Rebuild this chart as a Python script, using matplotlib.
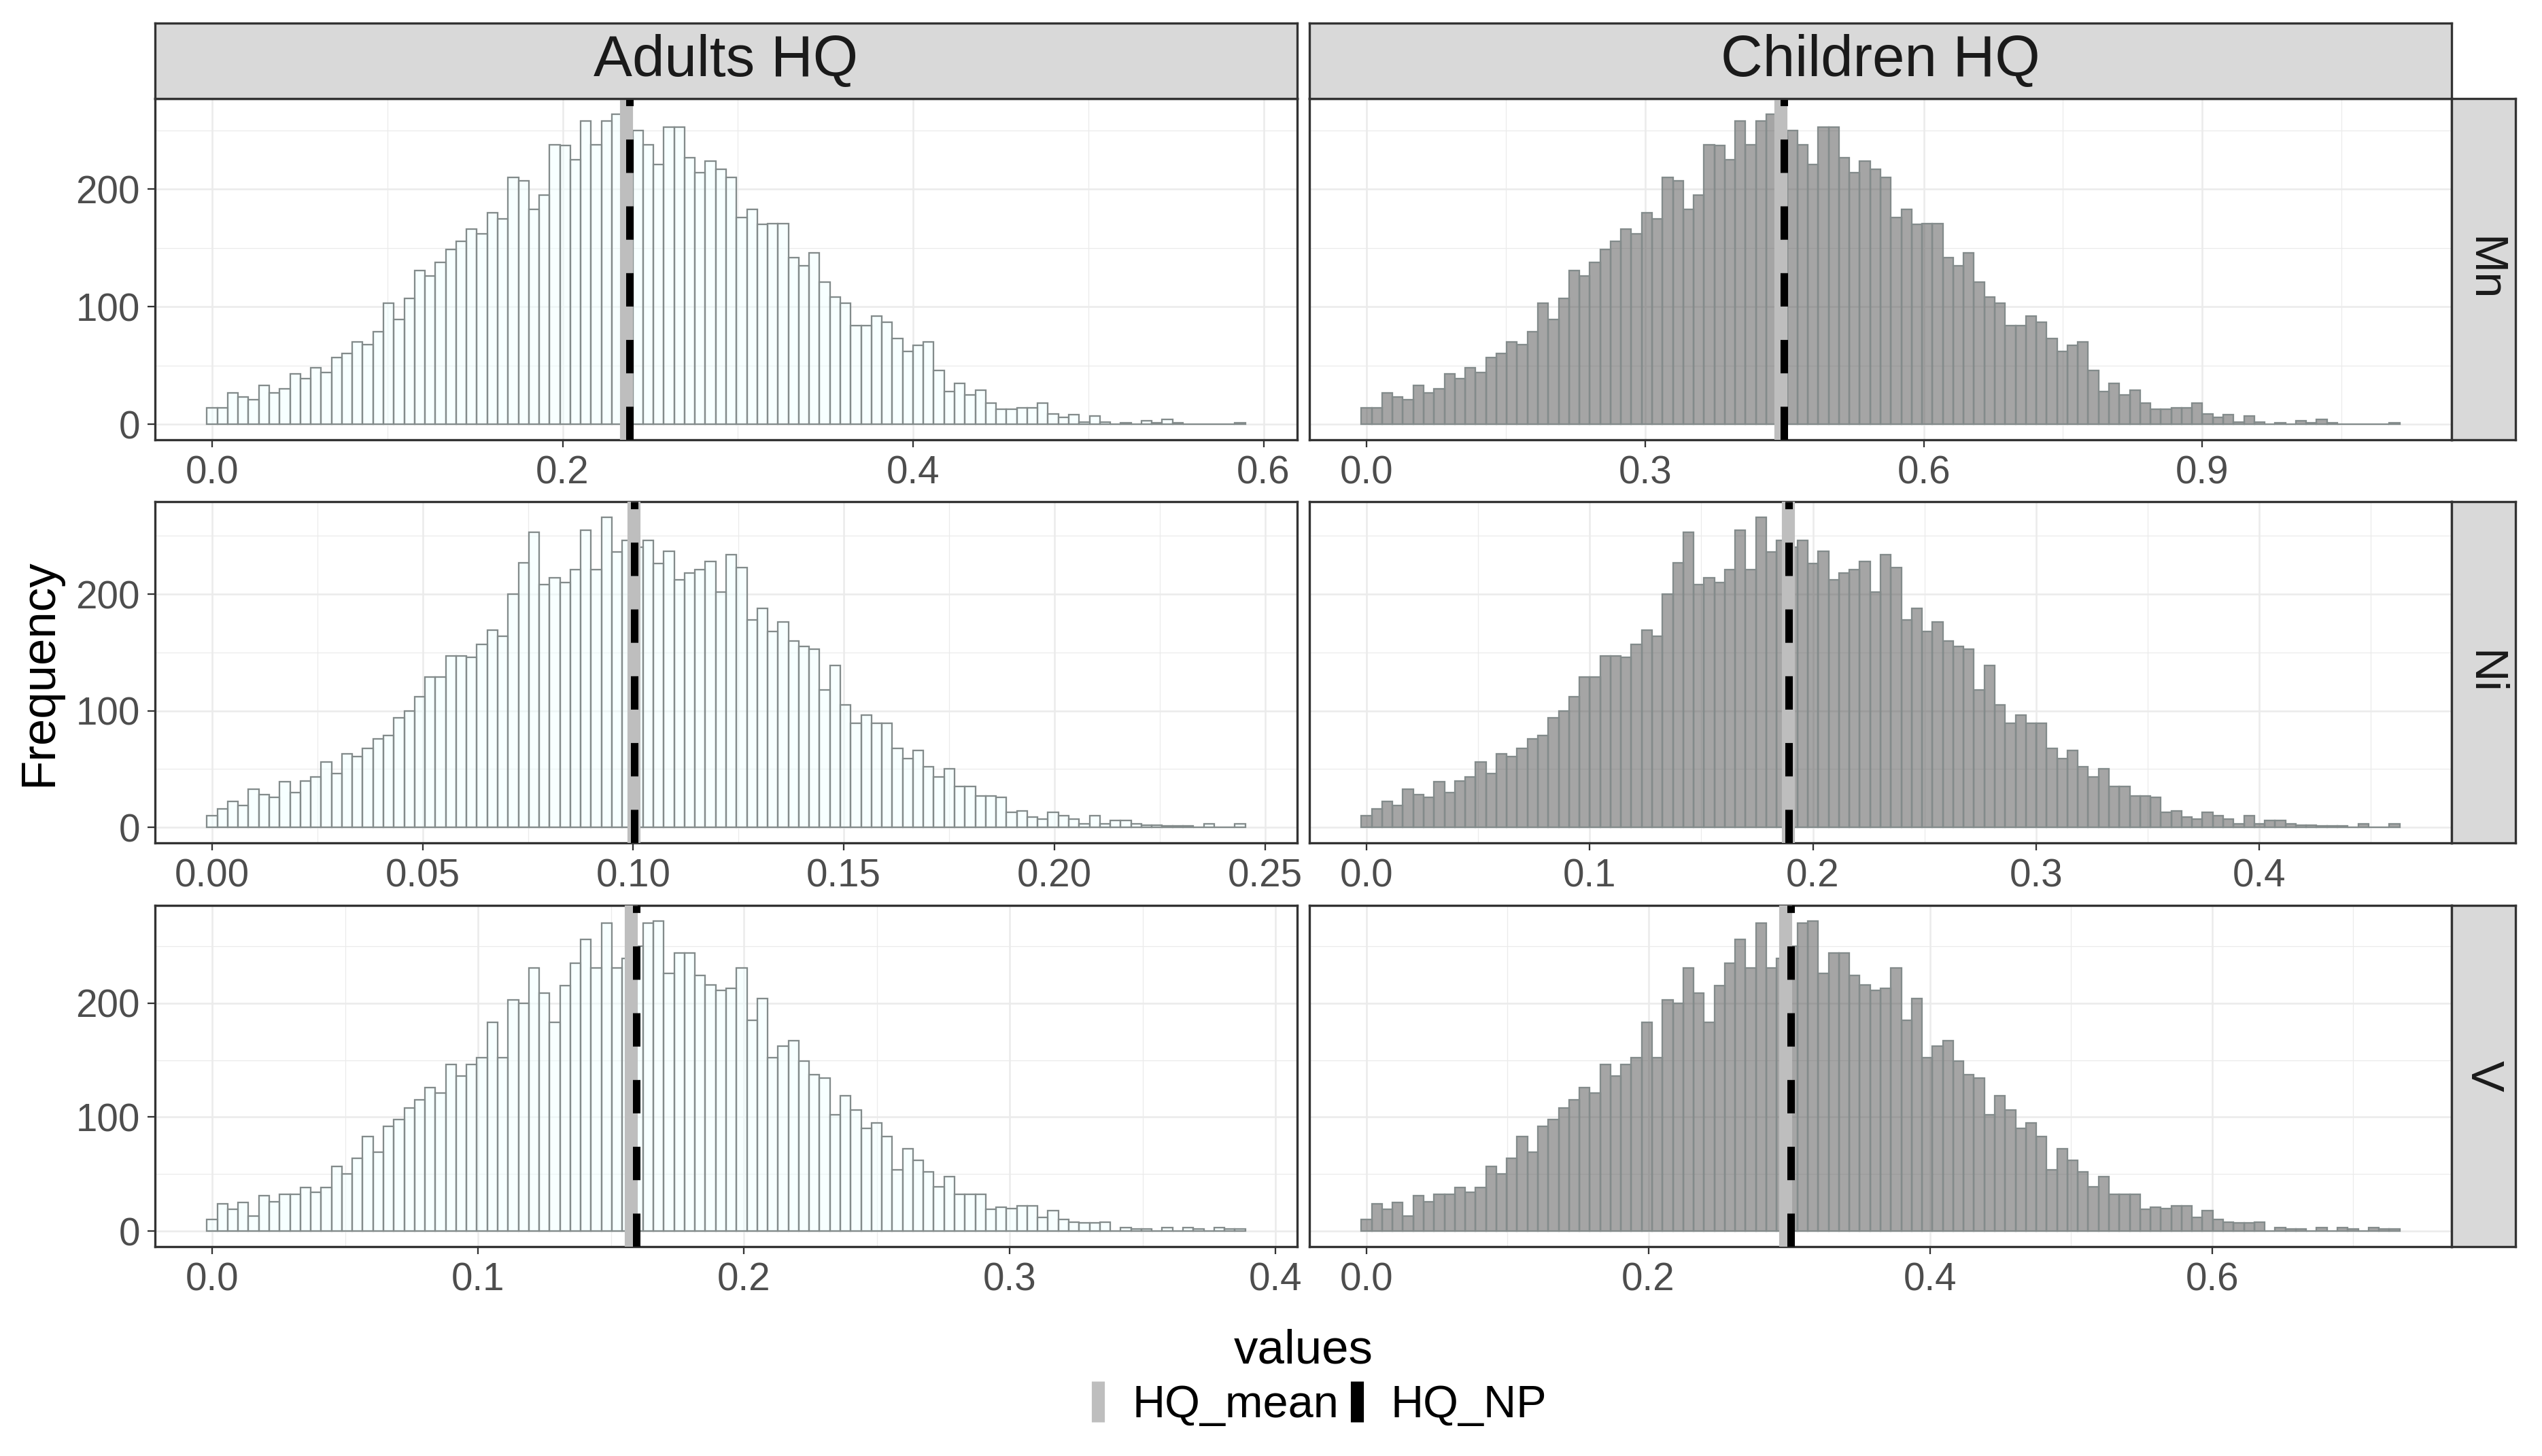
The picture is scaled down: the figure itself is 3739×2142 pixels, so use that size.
import numpy as np
import matplotlib
matplotlib.use("Agg")
import matplotlib.pyplot as plt
from matplotlib.lines import Line2D
from matplotlib.ticker import MultipleLocator

plt.rcParams['font.family'] = ['Liberation Sans', 'DejaVu Sans']

groups = ['Adults HQ', 'Children HQ']
elements = ['Mn', 'Ni', 'V']

# histogram counts (100 bins); both groups share the same shape per element
mn_counts = [14, 14, 27, 23, 21, 33, 27, 30, 43, 39,
             48, 44, 57, 60, 70, 68, 79, 103, 89, 107,
             131, 126, 138, 149, 156, 166, 162, 180, 175, 210,
             207, 183, 195, 238, 237, 225, 258, 238, 258, 264,
             245, 250, 238, 221, 253, 253, 227, 214, 224, 217,
             210, 176, 183, 170, 171, 171, 142, 135, 146, 121,
             108, 103, 84, 84, 92, 87, 73, 62, 67, 70,
             46, 28, 35, 25, 29, 18, 13, 13, 14, 14,
             18, 9, 6, 8, 2, 7, 2, 0, 1, 0,
             3, 1, 4, 1, 0, 0, 0, 0, 0, 1]
ni_counts = [10, 16, 22, 19, 33, 28, 26, 39, 30, 40,
             43, 56, 46, 63, 61, 68, 76, 79, 94, 100,
             112, 129, 129, 147, 147, 146, 157, 169, 164, 200,
             227, 253, 208, 214, 210, 221, 255, 221, 266, 236,
             246, 240, 246, 226, 237, 212, 218, 221, 228, 202,
             234, 223, 178, 188, 168, 176, 160, 155, 153, 118,
             139, 105, 89, 96, 89, 89, 68, 59, 66, 52,
             43, 50, 35, 35, 27, 27, 26, 13, 14, 9,
             7, 13, 10, 7, 3, 10, 3, 6, 6, 3,
             2, 2, 1, 1, 1, 0, 3, 0, 0, 3]
v_counts = [10, 24, 19, 25, 13, 31, 26, 32, 32, 38,
            34, 38, 57, 50, 64, 83, 69, 92, 98, 108,
            115, 126, 121, 146, 136, 146, 152, 183, 152, 203,
            200, 231, 209, 183, 215, 235, 256, 231, 270, 231,
            239, 250, 270, 272, 226, 244, 244, 224, 216, 211,
            213, 231, 185, 204, 152, 162, 167, 149, 137, 134,
            102, 119, 106, 90, 95, 83, 54, 72, 62, 52,
            39, 48, 32, 32, 32, 19, 21, 20, 22, 22,
            12, 18, 10, 8, 7, 7, 8, 0, 3, 2,
            2, 0, 3, 0, 3, 2, 0, 3, 2, 2]
counts = {'Mn': mn_counts, 'Ni': ni_counts, 'V': v_counts}

# min / max of the simulated values in each panel
adults_min = [0.0, 0.0, 0.0]
adults_max = [0.5866, 0.2441, 0.3866]
children_min = [0.0, 0.0, 0.0]
children_max = [1.1069, 0.4606, 0.7295]

# reference lines
hq_mean_adults = [0.2364, 0.1001, 0.1575]
hq_np_adults = [0.2381, 0.1003, 0.1595]
hq_mean_children = [0.4461, 0.1889, 0.2972]
hq_np_children = [0.4493, 0.1893, 0.3010]

# x axis ticks per panel
ticks_adults = [[0.0, 0.2, 0.4, 0.6],
                [0.00, 0.05, 0.10, 0.15, 0.20, 0.25],
                [0.0, 0.1, 0.2, 0.3, 0.4]]
labels_adults = [['0.0', '0.2', '0.4', '0.6'],
                 ['0.00', '0.05', '0.10', '0.15', '0.20', '0.25'],
                 ['0.0', '0.1', '0.2', '0.3', '0.4']]
ticks_children = [[0.0, 0.3, 0.6, 0.9],
                  [0.0, 0.1, 0.2, 0.3, 0.4],
                  [0.0, 0.2, 0.4, 0.6]]
labels_children = [['0.0', '0.3', '0.6', '0.9'],
                   ['0.0', '0.1', '0.2', '0.3', '0.4'],
                   ['0.0', '0.2', '0.4', '0.6']]
y_ticks = [0, 100, 200]

fills = ['#F0FFFF80', '#4D4D4D80']
edge_col = '#838B8B'
border = '#333333'
grid_col = '#EBEBEB'

W, H = 3739, 2142
fig = plt.figure(figsize=(W / 300, H / 300), dpi=300)


def px_axes(x0, y0, w, h):
    return fig.add_axes([x0 / W, 1 - (y0 + h) / H, w / W, h / H])


col_left = [228, 1926]
pw = 1680
row_top = [145, 738, 1332]
ph = 502

for c, g in enumerate(groups):
    mins = adults_min if c == 0 else children_min
    maxs = adults_max if c == 0 else children_max
    means = hq_mean_adults if c == 0 else hq_mean_children
    nps = hq_np_adults if c == 0 else hq_np_children
    tks = ticks_adults if c == 0 else ticks_children
    lbs = labels_adults if c == 0 else labels_children
    for r, el in enumerate(elements):
        ax = px_axes(col_left[c], row_top[r], pw, ph)
        cnt = counts[el]
        bw = (maxs[r] - mins[r]) / (len(cnt) - 1)
        edges = np.linspace(mins[r] - bw / 2, maxs[r] + bw / 2, len(cnt) + 1)
        ax.bar(edges[:-1], cnt, width=np.diff(edges), align='edge',
               facecolor=fills[c], edgecolor=edge_col, linewidth=0.55, zorder=2)
        ax.axvline(means[r], color='#BEBEBE', lw=4.6, zorder=3)
        ax.axvline(nps[r], color='black', lw=2.65, ls=(0, (4.45, 4.45)), zorder=4)
        span = edges[-1] - edges[0]
        ax.set_xlim(edges[0] - 0.05 * span, edges[-1] + 0.05 * span)
        ymax = max(cnt)
        ax.set_ylim(-0.05 * ymax, 1.05 * ymax)
        ax.set_xticks(tks[r])
        ax.set_xticklabels(lbs[r])
        ax.xaxis.set_minor_locator(MultipleLocator((tks[r][1] - tks[r][0]) / 2))
        ax.set_yticks(y_ticks)
        ax.yaxis.set_minor_locator(MultipleLocator(50))
        ax.set_axisbelow(True)
        ax.grid(which='major', color=grid_col, lw=0.6)
        ax.grid(which='minor', color=grid_col, lw=0.3)
        ax.tick_params(which='minor', length=0)
        ax.tick_params(which='major', length=2.6, width=0.55, color=border,
                       labelcolor='#4D4D4D', labelsize=13.6, pad=2.7)
        if c == 1:
            ax.tick_params(axis='y', left=False, labelleft=False)
        for s in ax.spines.values():
            s.set_color(border)
            s.set_linewidth(0.8)

# strips
for c, g in enumerate(groups):
    sax = px_axes(col_left[c], 34, pw, 111)
    sax.set_facecolor('#D9D9D9')
    sax.set_xticks([])
    sax.set_yticks([])
    for s in sax.spines.values():
        s.set_color(border)
        s.set_linewidth(0.8)
    sax.text(0.5, 0.5, g, transform=sax.transAxes, ha='center', va='center',
             fontsize=20.5, color='#1A1A1A')

for r, el in enumerate(elements):
    sax = px_axes(3606, row_top[r], 94, ph)
    sax.set_facecolor('#D9D9D9')
    sax.set_xticks([])
    sax.set_yticks([])
    for s in sax.spines.values():
        s.set_color(border)
        s.set_linewidth(0.8)
    sax.text(0.5, 0.5, el, transform=sax.transAxes, ha='center', va='center',
             rotation=-90, fontsize=16.5, color='#1A1A1A')

fig.text((228 + 3606) / 2 / W, 1 - 2005 / H, 'values', ha='center', va='baseline', fontsize=17)
fig.text(58 / W, 1 - 990 / H, 'Frequency', ha='center', va='center', rotation=90, fontsize=17)

handles = [Line2D([], [], color='#BEBEBE', marker='|', ls='None', markersize=14.6, mew=4.6),
           Line2D([], [], color='black', marker='|', ls='None', markersize=14.6, mew=4.6)]
fig.legend(handles, ['HQ_mean', 'HQ_NP'], loc='center', bbox_to_anchor=(0.518, 1 - 2068 / H),
           ncol=2, frameon=False, fontsize=16, handlelength=0.5, handletextpad=0.5,
           columnspacing=0.15, borderaxespad=0, borderpad=0)

fig.savefig('out.png', dpi=300)
